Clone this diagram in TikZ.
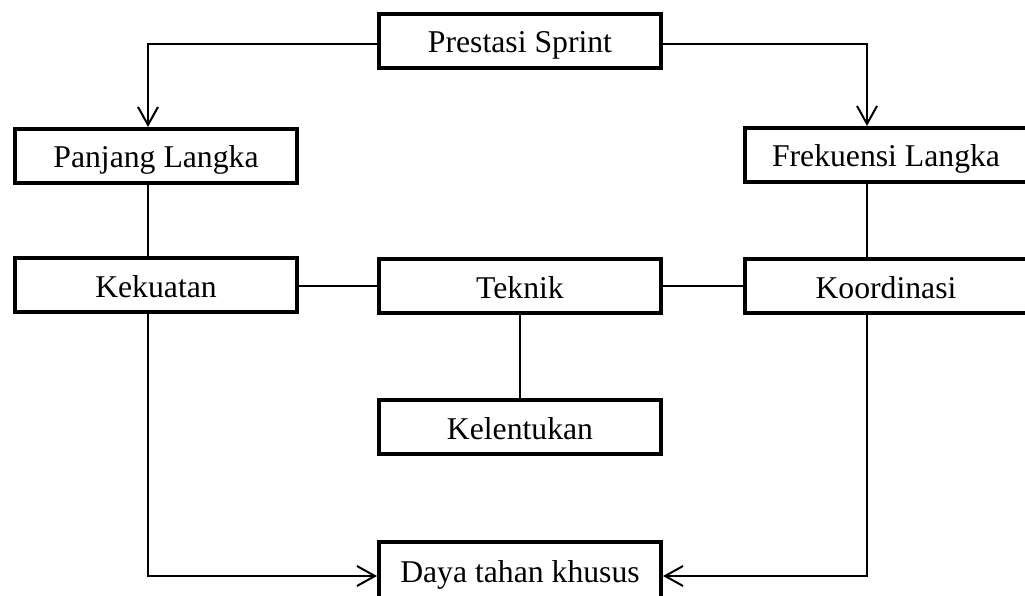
\documentclass[tikz,border=0pt]{standalone}
\usepackage{fontspec}
\setmainfont{Liberation Serif}
\usetikzlibrary{arrows.meta}
\begin{document}
\begin{tikzpicture}[x=1pt,y=-1pt,
  box/.style={draw,line width=4pt,minimum width=282pt,minimum height=54pt,inner sep=0pt,
    text height=30pt,text depth=6pt,
    font=\fontsize{31.7}{38}\selectfont},
  conn/.style={line width=2pt},
  arr/.style={conn,-{Straight Barb[length=18pt,width=20pt]}}]
\useasboundingbox (0,0) rectangle (1025,596);
\fill[white] (0,0) rectangle (1025,596);
\coordinate (lx) at (148,0);
\coordinate (rx) at (867,0);
\node[box] (ps) at (520,41) {Prestasi Sprint};
\node[box] (pl) at (156,156) {Panjang Langka};
\node[box] (fl) at (886,155) {Frekuensi Langka};
\node[box] (ke) at (156,285) {Kekuatan};
\node[box] (te) at (520,286) {Teknik};
\node[box] (ko) at (886,286) {Koordinasi};
\node[box] (kl) at (520,427) {Kelentukan};
\node[box,minimum height=68pt,text height=22pt,text depth=10pt] (dt) at (520,576) {Daya tahan khusus};
\draw[arr] ([yshift=-3pt]ps.west) -| (pl.north -| lx);
\draw[arr] ([yshift=-3pt]ps.east) -| (fl.north -| rx);
\draw[conn] (pl.south -| lx) -- (ke.north -| lx);
\draw[conn] (fl.south -| rx) -- (ko.north -| rx);
\draw[conn] (ke.east |- te.west) -- (te.west);
\draw[conn] (te.east) -- (ko.west |- te.east);
\draw[conn] (te.south) -- (kl.north);
\draw[arr] (ke.south -| lx) |- (dt.west);
\draw[arr] (ko.south -| rx) |- (dt.east);
\end{tikzpicture}
\end{document}
